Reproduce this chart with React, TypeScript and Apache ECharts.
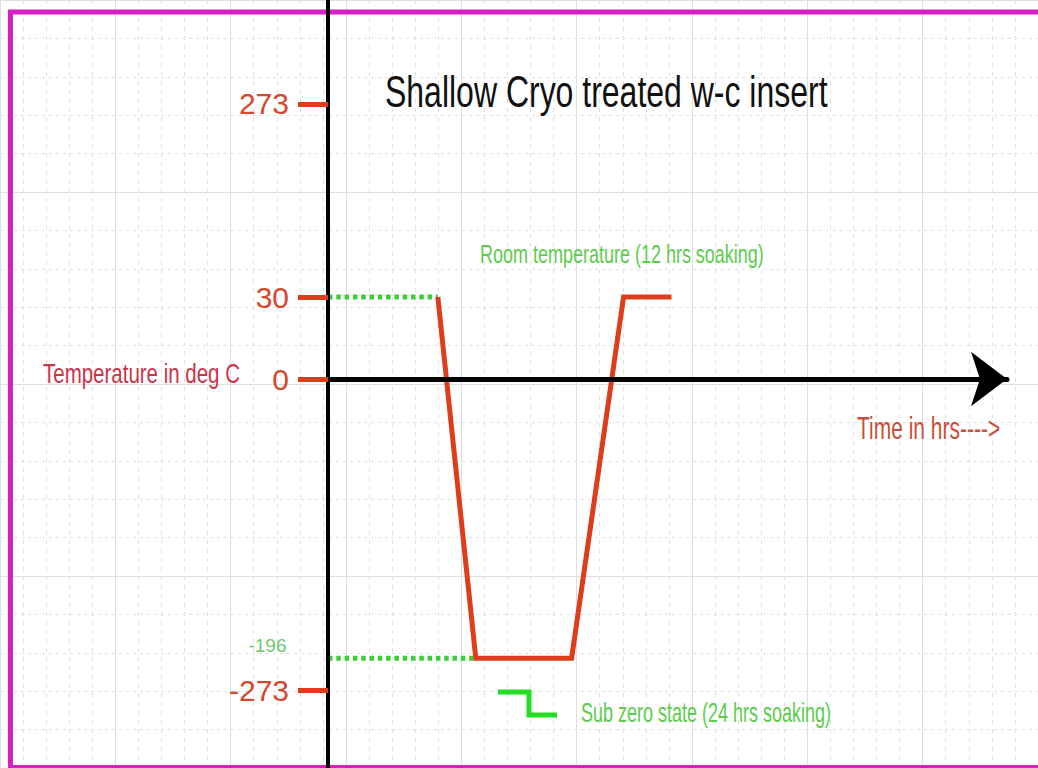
import React, { useEffect, useRef } from 'react';
import * as echarts from 'echarts';

const titleText = 'Shallow Cryo treated w-c insert';
const yAxisTitle = 'Temperature in deg C';
const xAxisTitle = 'Time in hrs---->';
const roomNote = 'Room temperature (12 hrs soaking)';
const subZeroNote = 'Sub zero state (24 hrs soaking)';

// temperatures marked on the vertical axis and their (non-linear, schematic) height on the drawing
const tempTicks = [273, 30, 0, -196, -273];
const tempLevels = [6.88, 2.05, 0, -6.98, -7.78];
const labelledTemps = [273, 30, 0, -273];

// treatment cycle: time (hrs) vs temperature (deg C)
const processTimes = [27.5, 37, 61, 74, 86];
const processTemps = [30, -196, -196, 30, 30];

// dotted guides from the temperature axis
const roomGuideTimes = [0, 27.5];
const roomGuideTemps = [30, 30];
const cryoGuideTimes = [0, 37];
const cryoGuideTemps = [-196, -196];

const lvl = (t: number) => tempLevels[tempTicks.indexOf(t)];
const tempOfLevel = (v: number) => {
  let best = 0;
  for (let i = 0; i < tempLevels.length; i++) {
    if (Math.abs(tempLevels[i] - v) < Math.abs(tempLevels[best] - v)) best = i;
  }
  return tempTicks[best];
};

const RED = '#dd3d1c';
const GREEN_DOT = '#3ccc3c';
const GREEN_TEXT = '#5ccc4c';

export default function App() {
  const ref = useRef<HTMLDivElement>(null);
  useEffect(() => {
    if (!ref.current) return;
    const chart = echarts.init(ref.current, undefined, { renderer: 'svg' });
    const labelledLevels = labelledTemps.map(lvl);
    const option: any = {
      animation: false,
      backgroundColor: '#ffffff',
      grid: [
        { left: 328, right: 31, top: 0, bottom: 0 },
        { left: -39.9, right: -30.9, top: -14.5, bottom: -3.5 },
      ],
      xAxis: [
        {
          gridIndex: 0, type: 'value', min: 0, max: 170, z: 5,
          axisLine: { show: true, onZero: true, symbol: ['none', 'arrow'], symbolSize: [41, 36], lineStyle: { color: '#000', width: 5 } },
          axisTick: { show: false }, axisLabel: { show: false }, splitLine: { show: false },
        },
        {
          gridIndex: 1, type: 'value', min: 0, max: 45, interval: 5,
          axisLine: { show: false }, axisTick: { show: false }, axisLabel: { show: false },
          splitLine: { show: true, lineStyle: { color: '#dedede', width: 1 } },
          minorTick: { show: false, splitNumber: 5 },
          minorSplitLine: { show: true, lineStyle: { color: '#e0e0e0', width: 1, type: [4, 5] } },
        },
      ],
      yAxis: [
        {
          gridIndex: 0, type: 'value', min: -9.725, max: 9.475, z: 5,
          axisLine: { show: true, onZero: true, lineStyle: { color: '#000', width: 4 } },
          axisTick: { show: true, customValues: labelledLevels, length: 30, lineStyle: { color: RED, width: 5 } },
          axisLabel: {
            show: true, customValues: labelledLevels, margin: 39,
            formatter: (v: number) => String(tempOfLevel(v)),
            color: '#d4482c', fontSize: 30, fontFamily: '"Liberation Sans", sans-serif',
          },
          splitLine: { show: false },
        },
        {
          gridIndex: 1, type: 'value', inverse: true, min: 0, max: 20, interval: 5,
          axisLine: { show: false }, axisTick: { show: false }, axisLabel: { show: false },
          splitLine: { show: true, lineStyle: { color: '#dedede', width: 1 } },
          minorTick: { show: false, splitNumber: 5 },
          minorSplitLine: { show: true, lineStyle: { color: '#e0e0e0', width: 1, type: [3, 4] } },
        },
      ],
      series: [
        {
          type: 'line', xAxisIndex: 0, yAxisIndex: 0, z: 3, symbol: 'none',
          lineStyle: { color: GREEN_DOT, width: 5, type: [4.5, 3.8] },
          data: roomGuideTimes.map((t, i) => [t, lvl(roomGuideTemps[i])]),
        },
        {
          type: 'line', xAxisIndex: 0, yAxisIndex: 0, z: 3, symbol: 'none',
          lineStyle: { color: GREEN_DOT, width: 5, type: [4.5, 3.8] },
          data: cryoGuideTimes.map((t, i) => [t, lvl(cryoGuideTemps[i])]),
        },
        {
          type: 'line', xAxisIndex: 0, yAxisIndex: 0, z: 4, symbol: 'none',
          lineStyle: { color: RED, width: 5, join: 'miter' },
          data: processTimes.map((t, i) => [t, lvl(processTemps[i])]),
        },
        {
          type: 'scatter', xAxisIndex: 0, yAxisIndex: 0, z: 4, symbolSize: 1,
          itemStyle: { color: 'rgba(0,0,0,0)' },
          label: {
            show: true, position: 'left', distance: 41, offset: [0, -13],
            formatter: () => String(cryoGuideTemps[0]),
            color: '#44bb44', fontSize: 19, fontFamily: '"Liberation Sans", sans-serif',
          },
          data: [[cryoGuideTimes[0], lvl(cryoGuideTemps[0])]],
        },
      ],
      graphic: [
        { type: 'rect', z: 1, silent: true, shape: { x: 10.5, y: 12, width: 1100, height: 755.5 }, style: { fill: 'none', stroke: '#d61fc4', lineWidth: 5 } },
        { type: 'text', z: 10, x: 385, y: 91, scaleY: 1.4, style: { text: titleText, fontSize: 32, fontFamily: '"Liberation Sans", sans-serif', fill: '#111', verticalAlign: 'middle', align: 'left' } },
        { type: 'text', z: 10, x: 43, y: 373, scaleY: 1.38, style: { text: yAxisTitle, fontSize: 20.5, fontFamily: '"Liberation Sans", sans-serif', fill: '#c8364a', verticalAlign: 'middle', align: 'left' } },
        { type: 'text', z: 10, x: 857, y: 429, scaleY: 1.45, style: { text: xAxisTitle, fontSize: 21, fontFamily: '"Liberation Sans", sans-serif', fill: '#c85038', verticalAlign: 'middle', align: 'left' } },
        { type: 'text', z: 10, x: 480, y: 254, scaleY: 1.4, style: { text: roomNote, fontSize: 18, fontFamily: '"Liberation Sans", sans-serif', fill: GREEN_TEXT, verticalAlign: 'middle', align: 'left' } },
        { type: 'text', z: 10, x: 581, y: 713, scaleY: 1.5, style: { text: subZeroNote, fontSize: 18, fontFamily: '"Liberation Sans", sans-serif', fill: GREEN_TEXT, verticalAlign: 'middle', align: 'left' } },
        { type: 'polyline', z: 10, shape: { points: [[498, 692], [529, 692], [529, 715], [557, 715]] }, style: { fill: 'none', stroke: '#22dd22', lineWidth: 5 } },
      ],
    };
    chart.setOption(option);
    return () => chart.dispose();
  }, []);
  return <div ref={ref} style={{ position: 'absolute', left: 0, top: 0, width: 1038, height: 768 }} />;
}
